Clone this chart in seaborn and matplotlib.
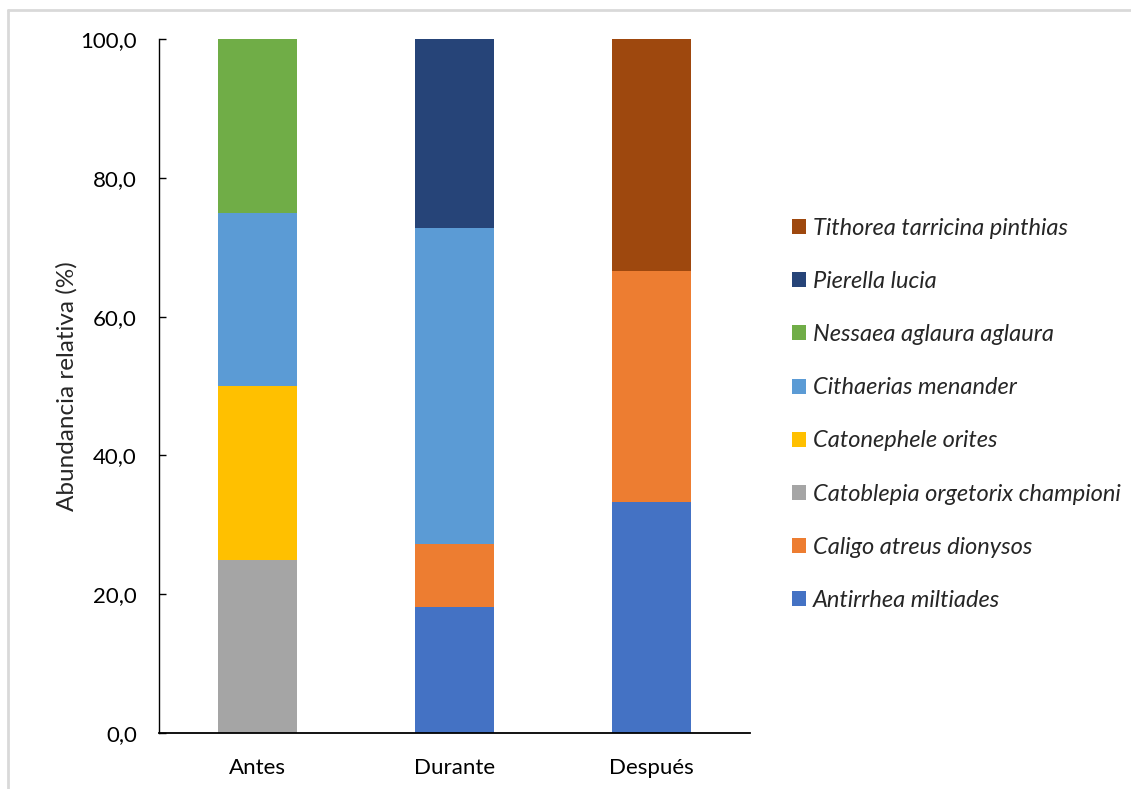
import matplotlib
matplotlib.use("Agg")
import matplotlib.pyplot as plt
from matplotlib.patches import Patch
from matplotlib.lines import Line2D
import numpy as np
import seaborn as sns

# Relative abundance (%) of each species per period
periodos = ["Antes", "Durante", "Después"]
especies = [
    "Antirrhea miltiades",
    "Caligo atreus dionysos",
    "Catoblepia orgetorix championi",
    "Catonephele orites",
    "Cithaerias menander",
    "Nessaea aglaura aglaura",
    "Pierella lucia",
    "Tithorea tarricina pinthias",
]
antirrhea = [0.0, 18.2, 33.3]
caligo = [0.0, 9.1, 33.3]
catoblepia = [25.0, 0.0, 0.0]
catonephele = [25.0, 0.0, 0.0]
cithaerias = [25.0, 45.5, 0.0]
nessaea = [25.0, 0.0, 0.0]
pierella = [0.0, 27.2, 0.0]
tithorea = [0.0, 0.0, 33.4]
valores = [antirrhea, caligo, catoblepia, catonephele,
           cithaerias, nessaea, pierella, tithorea]
colores = ["#4472C4", "#ED7D31", "#A5A5A5", "#FFC000",
           "#5B9BD5", "#70AD47", "#264478", "#9E480E"]
yticks = [0, 20, 40, 60, 80, 100]

sns.set_theme(style="white")
plt.rcParams["font.family"] = ["Lato", "DejaVu Sans"]

fig = plt.figure(figsize=(11.31, 7.89), dpi=100)
ax = fig.add_axes([159 / 1131, 1 - 733 / 789, (750 - 159) / 1131, (733 - 39) / 789])

base = np.zeros(len(periodos))
for nombre, vals, col in zip(especies, valores, colores):
    sns.barplot(x=periodos, y=vals, order=periodos, bottom=base, color=col,
                width=0.4, saturation=1, linewidth=0, errorbar=None, ax=ax)
    base = base + np.array(vals)

ax.set_xlim(-0.5, 2.5)
ax.set_ylim(0, 100)
ax.set_yticks(yticks)
ax.set_yticklabels([f"{v:.1f}".replace(".", ",") for v in yticks], fontsize=16)
ax.tick_params(axis="x", length=0, labelsize=16, pad=18)
ax.tick_params(axis="y", left=True, length=5, width=1, color="black",
               direction="in", pad=16)
ax.set_ylabel("Abundancia relativa (%)", fontsize=17.5, labelpad=2)
ax.set_xlabel("")
for s in ["top", "right"]:
    ax.spines[s].set_visible(False)
for s in ["left", "bottom"]:
    ax.spines[s].set_color("black")
ax.spines["left"].set_linewidth(1.0)
ax.spines["bottom"].set_linewidth(1.3)
ax.tick_params(colors="black")

handles = [Patch(facecolor=c, edgecolor="none") for c in colores][::-1]
labels = especies[::-1]
fig.legend(handles, labels, loc="upper left", bbox_to_anchor=(792 / 1131, 1 - 218 / 789),
           frameon=False, prop={"style": "italic", "size": 17},
           handlelength=0.6, handleheight=0.6, handletextpad=0.3,
           labelspacing=1.36, borderaxespad=0, borderpad=0)

# light outer frame
fig.add_artist(Line2D([7.5 / 1131, 1], [1 - 10 / 789, 1 - 10 / 789],
                      transform=fig.transFigure, color="#D9D9D9", lw=2))
fig.add_artist(Line2D([7.5 / 1131, 7.5 / 1131], [0, 1 - 10 / 789],
                      transform=fig.transFigure, color="#D9D9D9", lw=2))

fig.savefig("out.png", dpi=100, facecolor="white")
